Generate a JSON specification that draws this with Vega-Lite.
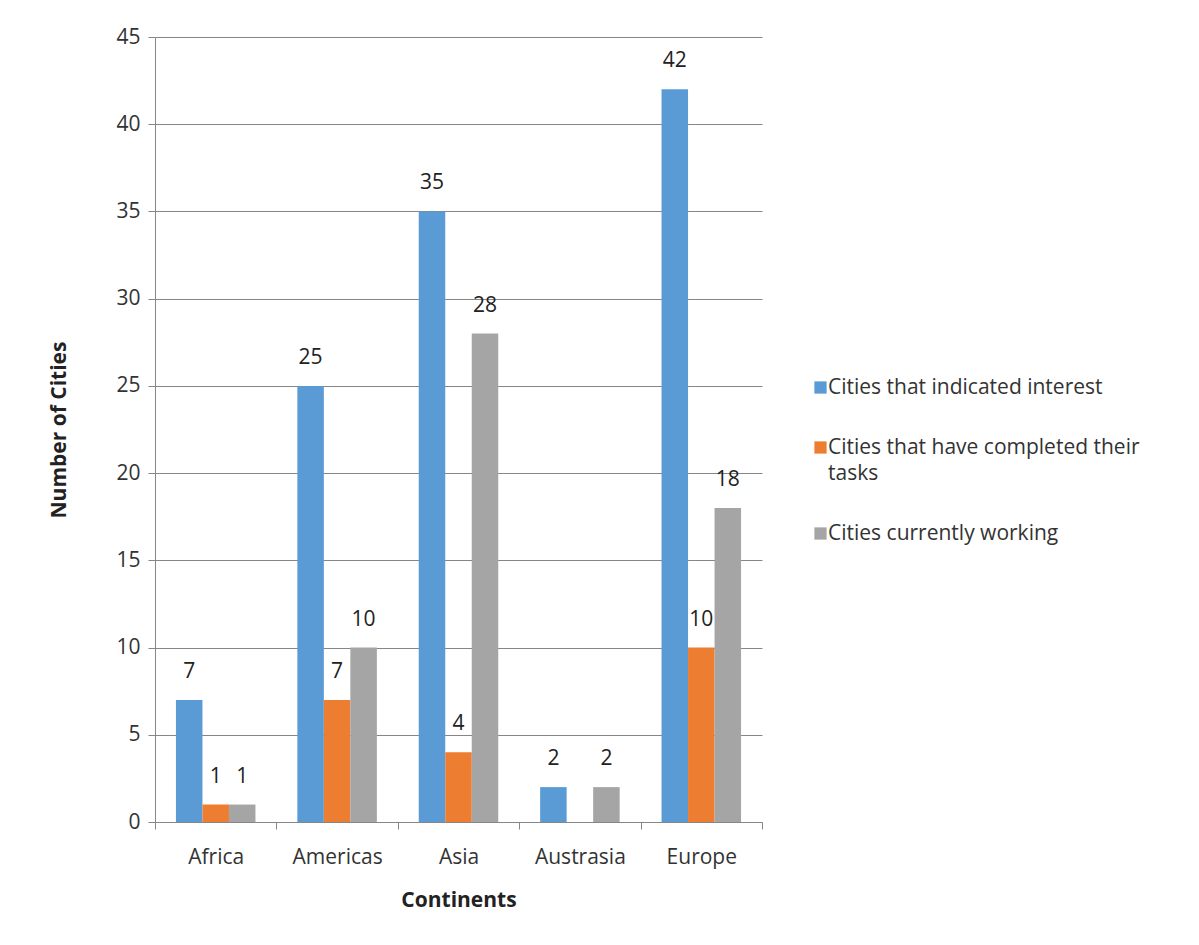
{
  "$schema": "https://vega.github.io/schema/vega-lite/v6.json",
  "autosize": "none",
  "width": 607,
  "height": 785,
  "padding": {"left": 155, "top": 37, "right": 437, "bottom": 123},
  "background": "white",
  "config": {
    "font": "Open Sans",
    "view": {"stroke": null},
    "style": {"guide-label": {"lineHeight": 26}}
  },
  "data": {
    "values": [
      {"continent": "Africa", "series": "Cities that indicated interest", "value": 7},
      {"continent": "Africa", "series": "Cities that have completed their tasks", "value": 1},
      {"continent": "Africa", "series": "Cities currently working", "value": 1},
      {"continent": "Americas", "series": "Cities that indicated interest", "value": 25},
      {"continent": "Americas", "series": "Cities that have completed their tasks", "value": 7},
      {"continent": "Americas", "series": "Cities currently working", "value": 10},
      {"continent": "Asia", "series": "Cities that indicated interest", "value": 35},
      {"continent": "Asia", "series": "Cities that have completed their tasks", "value": 4},
      {"continent": "Asia", "series": "Cities currently working", "value": 28},
      {"continent": "Austrasia", "series": "Cities that indicated interest", "value": 2},
      {"continent": "Austrasia", "series": "Cities currently working", "value": 2},
      {"continent": "Europe", "series": "Cities that indicated interest", "value": 42},
      {"continent": "Europe", "series": "Cities that have completed their tasks", "value": 10},
      {"continent": "Europe", "series": "Cities currently working", "value": 18}
    ]
  },
  "encoding": {
    "x": {
      "field": "continent",
      "type": "nominal",
      "sort": ["Africa", "Americas", "Asia", "Austrasia", "Europe"],
      "scale": {"paddingInner": 0, "paddingOuter": 0},
      "axis": {
        "title": "Continents",
        "titleFontSize": 21,
        "titleFontWeight": "bold",
        "titleColor": "#222222",
        "titlePadding": 22,
        "labelAngle": 0,
        "labelFontSize": 21,
        "labelColor": "#333333",
        "labelPadding": 17,
        "tickBand": "extent",
        "tickSize": 7,
        "tickColor": "#868686",
        "domainColor": "#868686",
        "grid": false
      }
    },
    "xOffset": {
      "field": "series",
      "type": "nominal",
      "sort": ["Cities that indicated interest", "Cities that have completed their tasks", "Cities currently working"],
      "scale": {"paddingInner": 0, "paddingOuter": 0.79}
    },
    "y": {
      "field": "value",
      "type": "quantitative",
      "scale": {"domain": [0, 45]},
      "axis": {
        "title": "Number of Cities",
        "titleFontSize": 21,
        "titleFontWeight": "bold",
        "titleColor": "#222222",
        "titlePadding": 46,
        "values": [0, 5, 10, 15, 20, 25, 30, 35, 40, 45],
        "labelFontSize": 21,
        "labelColor": "#333333",
        "labelPadding": 8,
        "tickSize": 7,
        "tickColor": "#868686",
        "domainColor": "#868686",
        "gridColor": "#868686",
        "gridOpacity": 1
      }
    }
  },
  "layer": [
    {
      "mark": {"type": "bar"},
      "encoding": {
        "color": {
          "field": "series",
          "type": "nominal",
          "sort": ["Cities that indicated interest", "Cities that have completed their tasks", "Cities currently working"],
          "scale": {"range": ["#5B9BD5", "#ED7D31", "#A5A5A5"]},
          "legend": {
            "title": null,
            "orient": "none",
            "legendX": 655,
            "legendY": 340,
            "symbolType": "square",
            "symbolSize": 150,
            "symbolStrokeWidth": 0,
            "labelFontSize": 21,
            "labelColor": "#333333",
            "labelLimit": 400,
            "rowPadding": 38,
            "labelOffset": -3,
            "labelExpr": "datum.label == 'Cities that have completed their tasks' ? ['Cities that have completed their', 'tasks'] : datum.label"
          }
        }
      }
    },
    {
      "mark": {"type": "text", "baseline": "bottom", "dy": -18, "fontSize": 21, "color": "#222222"},
      "encoding": {
        "text": {"field": "value", "type": "quantitative"}
      }
    }
  ]
}
